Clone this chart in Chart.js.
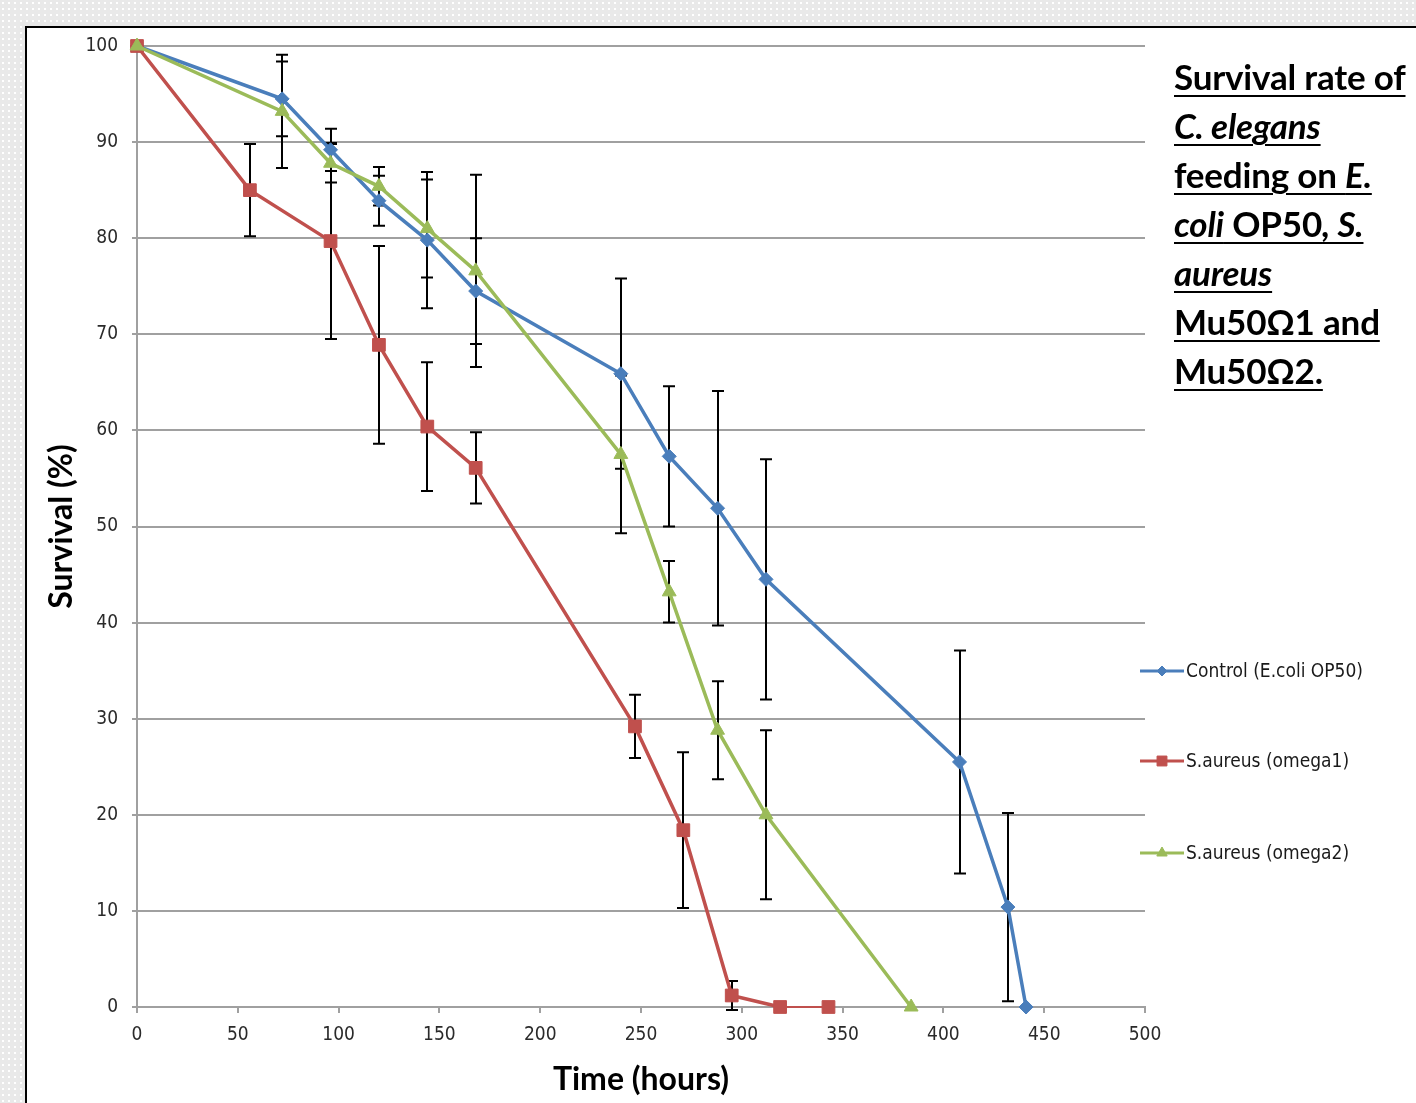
<!DOCTYPE html>
<html>
<head>
<meta charset="utf-8">
<script src="https://cdn.jsdelivr.net/npm/chart.js@4/dist/chart.umd.min.js"></script>
<style>
  html, body { margin: 0; padding: 0; }
  body {
    width: 1416px; height: 1103px; overflow: hidden; position: relative;
    background-color: #e9e9e9;
    background-image: radial-gradient(circle, #ffffff 0.8px, transparent 1.2px);
    background-size: 6px 6px;
  }
  #panel {
    position: absolute; left: 25px; top: 26px; width: 1420px; height: 1100px;
    background: #fff; border-left: 2px solid #000; border-top: 2px solid #000;
  }
  #wrap { position: absolute; left: 0; top: 0; width: 1416px; height: 1103px; }
  #title {
    position: absolute; left: 1174px; top: 52px;
    font-family: Lato, "Open Sans", sans-serif; font-weight: bold; font-size: 35px;
    line-height: 49px; color: #000; white-space: nowrap; letter-spacing: -0.2px;
  }
  #title span.l { text-decoration: underline; text-decoration-thickness: 2px; text-underline-offset: 5px; }
</style>
</head>
<body>
<div id="panel"></div>
<div id="wrap"><canvas id="survivalChart" width="1416" height="1103"></canvas></div>
<div id="title">
  <span class="l">Survival rate of</span><br>
  <span class="l"><i>C. elegans</i></span><br>
  <span class="l">feeding on <i>E.</i></span><br>
  <span class="l"><i>coli</i> OP50<i>, S.</i></span><br>
  <span class="l"><i>aureus</i></span><br>
  <span class="l">Mu50Ω1 and</span><br>
  <span class="l">Mu50Ω2.</span>
</div>
<script>
// Données
const seriesNames = ["Control (E.coli OP50)", "S.aureus (omega1)", "S.aureus (omega2)"];

const controlHours = [0, 72, 96, 120, 144, 168, 240, 264, 288, 312, 408, 432, 441];
const controlSurvival = [100, 94.5, 89.2, 83.9, 79.8, 74.5, 65.9, 57.3, 51.9, 44.5, 25.5, 10.4, 0];
const controlErr = [0, 3.9, 2.2, 2.6, 7.1, 5.5, 9.9, 7.3, 12.2, 12.5, 11.6, 9.8, 0];

const omega1Hours = [0, 56, 96, 120, 144, 168, 247, 271, 295, 319, 343];
const omega1Survival = [100, 85.0, 79.7, 68.9, 60.4, 56.1, 29.2, 18.4, 1.2, 0, 0];
const omega1Err = [0, 4.8, 10.2, 10.3, 6.7, 3.7, 3.3, 8.1, 1.5, 0, 0];

const omega2Hours = [0, 72, 96, 120, 144, 168, 240, 264, 288, 312, 384];
const omega2Survival = [100, 93.2, 87.8, 85.4, 81.0, 76.6, 57.5, 43.2, 28.8, 20.0, 0];
const omega2Err = [0, 5.9, 2.0, 2.0, 5.1, 10.0, 8.2, 3.2, 5.1, 8.8, 0];

const xTicks = [0, 50, 100, 150, 200, 250, 300, 350, 400, 450, 500];
const yTicks = [0, 10, 20, 30, 40, 50, 60, 70, 80, 90, 100];

const colors = ["#4a7ebb", "#c0504d", "#9bbb59"];
const markers = ["rectRot", "rect", "triangle"];
const markerSizes = [7, 9, 8];

function toPoints(xs, ys) {
  return xs.map((x, i) => ({ x: x, y: ys[i] }));
}

const narrow = '"Liberation Sans Narrow", "DejaVu Sans Condensed", sans-serif';

// Barres d'erreur (dessinées sous les courbes)
const errorBars = {
  id: "errorBars",
  beforeDatasetsDraw(chart) {
    const { ctx, scales: { x, y } } = chart;
    ctx.save();
    ctx.strokeStyle = "#000";
    ctx.lineWidth = 2;
    chart.data.datasets.forEach((ds) => {
      ds.errors.forEach((e, j) => {
        if (!e) return;
        const p = ds.data[j];
        const px = Math.round(x.getPixelForValue(p.x));
        const top = y.getPixelForValue(p.y + e);
        const bot = y.getPixelForValue(p.y - e);
        ctx.beginPath();
        ctx.moveTo(px, top); ctx.lineTo(px, bot);
        ctx.moveTo(px - 6, top); ctx.lineTo(px + 6, top);
        ctx.moveTo(px - 6, bot); ctx.lineTo(px + 6, bot);
        ctx.stroke();
      });
    });
    ctx.restore();
  }
};

// Légende à droite, style Excel (trait + marqueur)
const sideLegend = {
  id: "sideLegend",
  afterDraw(chart) {
    const { ctx, chartArea } = chart;
    const rows = [671, 761, 853];
    ctx.save();
    chart.data.datasets.forEach((ds, i) => {
      const y0 = rows[i];
      const x0 = chartArea.right - 5;
      ctx.strokeStyle = ds.borderColor;
      ctx.fillStyle = ds.borderColor;
      ctx.lineWidth = 3;
      ctx.beginPath();
      ctx.moveTo(x0, y0); ctx.lineTo(x0 + 44, y0);
      ctx.stroke();
      ctx.lineWidth = 1;
      Chart.helpers.drawPoint(ctx, {
        pointStyle: ds.pointStyle, radius: ds.pointRadius - 2, borderWidth: 1
      }, x0 + 22, y0);
      ctx.fillStyle = "#1a1a1a";
      ctx.font = "19px " + narrow;
      ctx.textBaseline = "middle";
      ctx.fillText(ds.label, x0 + 46, y0 + 1);
    });
    ctx.restore();
  }
};

const datasets = [
  [controlHours, controlSurvival, controlErr],
  [omega1Hours, omega1Survival, omega1Err],
  [omega2Hours, omega2Survival, omega2Err]
].map((s, i) => ({
  label: seriesNames[i],
  data: toPoints(s[0], s[1]),
  errors: s[2],
  order: 3 - i, // série suivante dessinée par-dessus, comme Excel
  showLine: true,
  clip: false,
  borderColor: colors[i],
  backgroundColor: colors[i],
  borderWidth: 3.5,
  pointStyle: markers[i],
  pointRadius: markerSizes[i],
  pointBorderWidth: 1,
  tension: 0
}));
// dernier segment rouge plus fin
datasets[1].segment = { borderWidth: (c) => (c.p0DataIndex >= 9 ? 2 : 3.5) };

const config = {
  type: "scatter",
  data: { datasets: datasets },
  options: {
    responsive: false,
    animation: false,
    layout: { padding: { left: 0, top: 46, right: 271, bottom: 0 } },
    plugins: { legend: { display: false }, tooltip: { enabled: false } },
    scales: {
      x: {
        type: "linear", min: 0, max: 500,
        afterBuildTicks: (s) => { s.ticks = xTicks.map((v) => ({ value: v })); },
        afterFit: (s) => { s.height = 96; },
        grid: { drawOnChartArea: false, drawTicks: true, tickLength: 6, color: "#a0a0a0", lineWidth: 2 },
        border: { display: true, color: "#a0a0a0", width: 2 },
        ticks: { color: "#2a2a2a", padding: 11, maxRotation: 0, font: { family: narrow, size: 19 } },
        title: {
          display: true, text: "Time (hours)", color: "#000",
          font: { family: "Lato, sans-serif", size: 32, weight: "bold" },
          padding: { top: 0, bottom: 4 }
        }
      },
      y: {
        min: 0, max: 100,
        afterBuildTicks: (s) => { s.ticks = yTicks.map((v) => ({ value: v })); },
        afterFit: (s) => { s.width = 137; },
        grid: { drawTicks: true, tickLength: 5, color: "#a0a0a0", lineWidth: 2 },
        border: { display: true, color: "#a0a0a0", width: 2 },
        ticks: { color: "#2a2a2a", padding: 14, font: { family: narrow, size: 19 } },
        title: {
          display: true, text: "Survival (%)", color: "#000",
          font: { family: "Lato, sans-serif", size: 32, weight: "bold" },
          padding: { top: 42, bottom: 0 }
        }
      }
    }
  },
  plugins: [errorBars, sideLegend]
};

window.addEventListener("DOMContentLoaded", () => {
  const ctx = document.getElementById("survivalChart").getContext("2d");
  new Chart(ctx, config);
});
</script>
</body>
</html>
